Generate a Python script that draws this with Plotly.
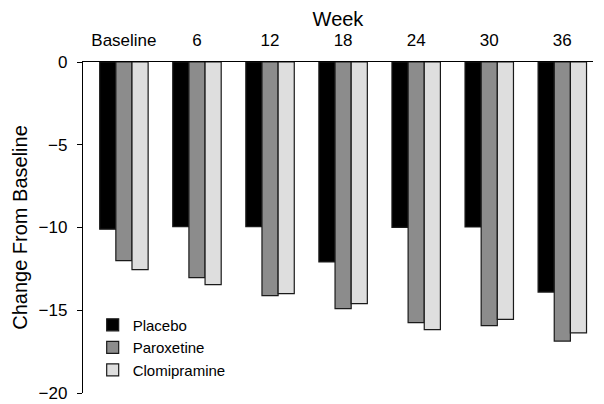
import plotly.graph_objects as go

weeks = ["Baseline", "6", "12", "18", "24", "30", "36"]
placebo = [-10.1, -9.95, -9.95, -12.08, -9.99, -9.97, -13.9]
paroxetine = [-12.0, -13.03, -14.12, -14.9, -15.75, -15.93, -16.86]
clomipramine = [-12.55, -13.45, -14.0, -14.6, -16.17, -15.55, -16.37]

series = [("Placebo", placebo, "#000000"),
          ("Paroxetine", paroxetine, "#8c8c8c"),
          ("Clomipramine", clomipramine, "#dedede")]

fig = go.Figure()
for name, vals, col in series:
    fig.add_trace(go.Bar(x=weeks, y=vals, name=name,
                         marker=dict(color=col, line=dict(color="#1a1a1a", width=1.2))))

font = "Liberation Sans, Arial, Helvetica, sans-serif"
fig.update_layout(
    width=596, height=396,
    margin=dict(l=75, r=11, t=54, b=11, autoexpand=False),
    paper_bgcolor="white", plot_bgcolor="white",
    font=dict(family=font, size=17, color="#000"),
    barmode="group", bargap=0.337, bargroupgap=0,
    showlegend=True,
    legend=dict(x=0.019, y=0.255, xanchor="left", yanchor="top",
                font=dict(size=15), bgcolor="rgba(0,0,0,0)",
                tracegroupgap=0, itemwidth=30),
    xaxis=dict(side="top", title=dict(text="Week", standoff=11),
               automargin=False, ticklabelstandoff=8,
               showline=True, linecolor="#000", linewidth=1.3,
               ticks="", showgrid=False, range=[-0.56, 6.42],
               tickfont=dict(size=17)),
    yaxis=dict(title=dict(text="Change From Baseline", standoff=5),
               automargin=False, ticklabelstandoff=6,
               range=[-20, 0], dtick=5, showline=True, linecolor="#000",
               linewidth=1.3, ticks="outside", ticklen=5, tickcolor="#000",
               showgrid=False, zeroline=False, tickfont=dict(size=17)),
)
fig.write_html("out.html")
